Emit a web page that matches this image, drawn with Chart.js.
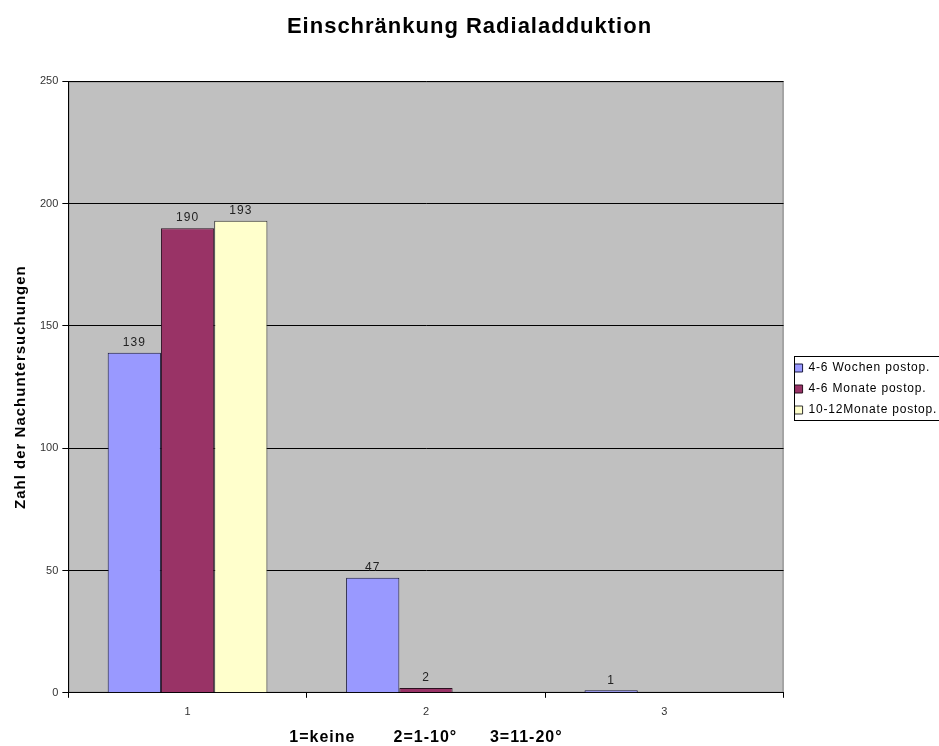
<!DOCTYPE html>
<html>
<head>
<meta charset="utf-8">
<script src="https://cdn.jsdelivr.net/npm/chart.js@4"></script>
<style>
  html, body { margin: 0; padding: 0; background: #fff; }
  #wrap { width: 939px; height: 746px; }
</style>
</head>
<body>
<div id="wrap"><canvas id="radialChart" width="939" height="746"></canvas></div>
<script>
const categories = ["1", "2", "3"];
const seriesNames = ["4-6 Wochen postop.", "4-6 Monate postop.", "10-12Monate postop."];
const wochen46 = [139, 47, 1];
const monate46 = [190, 2, null];
const monate1012 = [193, null, null];
const yTicks = [0, 50, 100, 150, 200, 250];

const FONT = "'Liberation Sans', Arial, sans-serif";

// wrap a draw fn so its text gets letter spacing (Excel-like wide text)
function spaced(obj, name, spacing) {
  if (!obj || obj["_sp_" + name]) return;
  const orig = obj[name].bind(obj);
  obj[name] = function (...args) {
    const ctx = this.ctx || (this.chart && this.chart.ctx);
    const prev = ctx.letterSpacing;
    ctx.letterSpacing = spacing;
    orig(...args);
    ctx.letterSpacing = prev || "0px";
  };
  obj["_sp_" + name] = true;
}

const excelLook = {
  id: "excelLook",
  afterInit(chart) {
    // wider legend box so the plot stops short of it
    const lg = chart.legend;
    const origFit = lg.fit.bind(lg);
    lg.fit = function () { origFit(); this.width += 9; };
  },
  afterLayout(chart) {
    const lg = chart.legend;
    lg.left = chart.chartArea.right + 2;
    lg.top += 13;
    lg.bottom += 13;
    const tb = chart.titleBlock;
    tb.left = 0;
    tb.right = chart.width;
    tb.width = chart.width;
    spaced(tb, "draw", "1px");
    spaced(lg, "draw", "0.8px");
    spaced(chart.scales.x, "drawTitle", "1px");
    spaced(chart.scales.y, "drawTitle", "1px");
  },
  beforeDraw(chart) {
    const { ctx, chartArea: a } = chart;
    ctx.save();
    ctx.fillStyle = "#c0c0c0";
    ctx.fillRect(a.left, a.top, a.right - a.left, a.bottom - a.top);
    ctx.strokeStyle = "#808080";
    ctx.lineWidth = 1;
    ctx.strokeRect(a.left + 0.5, a.top + 0.5, a.right - a.left - 1, a.bottom - a.top - 1);
    ctx.restore();
  },
  afterDatasetsDraw(chart) {
    const { ctx } = chart;
    ctx.save();
    ctx.font = "12px " + FONT;
    ctx.letterSpacing = "1px";
    ctx.fillStyle = "#222";
    ctx.textAlign = "center";
    ctx.textBaseline = "bottom";
    chart.data.datasets.forEach((ds, i) => {
      chart.getDatasetMeta(i).data.forEach((bar, j) => {
        const v = ds.data[j];
        if (v === null || v === undefined) return;
        ctx.fillText(String(v), bar.x, bar.y - 4);
      });
    });
    ctx.letterSpacing = "0px";
    ctx.restore();
  },
  afterDraw(chart) {
    const hb = chart.legend.legendHitBoxes;
    if (!hb || !hb.length) return;
    const { ctx } = chart;
    const top = hb[0].top - 6.5;
    const last = hb[hb.length - 1];
    const bottom = last.top + last.height + 3.5;
    const left = chart.chartArea.right + 10;
    ctx.save();
    ctx.strokeStyle = "#000";
    ctx.lineWidth = 1;
    ctx.strokeRect(Math.round(left) + 0.5, Math.round(top) + 0.5, 200, Math.round(bottom - top));
    ctx.restore();
  }
};

new Chart(document.getElementById("radialChart"), {
  type: "bar",
  data: {
    labels: categories,
    datasets: [
      { label: seriesNames[0], data: wochen46, backgroundColor: "#9999ff", borderColor: "#1a1a40", borderWidth: 1 },
      { label: seriesNames[1], data: monate46, backgroundColor: "#993366", borderColor: "#2a1020", borderWidth: 1 },
      { label: seriesNames[2], data: monate1012, backgroundColor: "#ffffcc", borderColor: "#333", borderWidth: 1 }
    ]
  },
  options: {
    responsive: false,
    animation: false,
    layout: { padding: { left: 12, right: 0, top: 6, bottom: 0 } },
    datasets: { bar: { categoryPercentage: 0.67, barPercentage: 1.0 } },
    plugins: {
      title: {
        display: true,
        text: "Einschränkung Radialadduktion",
        color: "#000",
        font: { family: FONT, size: 22, weight: "bold" },
        padding: { top: 8, bottom: 41 }
      },
      legend: {
        position: "right",
        align: "center",
        labels: {
          boxWidth: 8,
          boxHeight: 8,
          padding: 9,
          color: "#000",
          font: { family: FONT, size: 12 }
        }
      },
      tooltip: { enabled: false }
    },
    scales: {
      x: {
        grid: { drawOnChartArea: false, drawTicks: true, tickLength: 5, color: "#000" },
        border: { color: "#000" },
        ticks: { color: "#333", font: { family: FONT, size: 11 }, padding: 8 },
        title: {
          display: true,
          text: "1=keine       2=1-10°      3=11-20°",
          color: "#000",
          font: { family: FONT, size: 16, weight: "bold", lineHeight: 1 },
          padding: { top: 3, bottom: 0 }
        }
      },
      y: {
        min: 0,
        max: 250,
        afterBuildTicks(axis) { axis.ticks = yTicks.map(v => ({ value: v })); },
        grid: { color: "#000", tickLength: 6, drawTicks: true },
        border: { color: "#000" },
        ticks: { color: "#333", font: { family: FONT, size: 11 }, padding: 4 },
        title: {
          display: true,
          text: "Zahl der Nachuntersuchungen",
          color: "#000",
          font: { family: FONT, size: 15, weight: "bold" },
          padding: { top: 0, bottom: 6 }
        }
      }
    }
  },
  plugins: [excelLook]
});
</script>
</body>
</html>
